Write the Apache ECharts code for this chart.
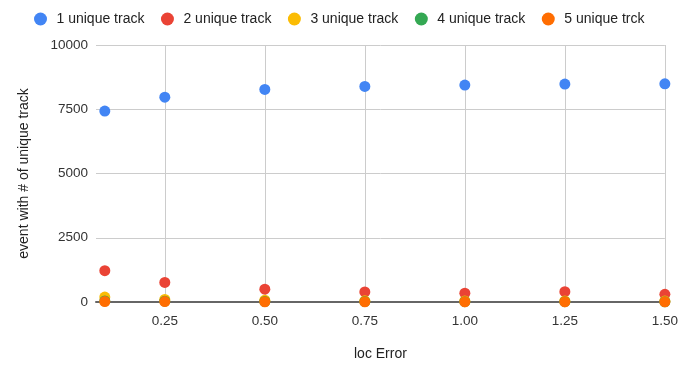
<!DOCTYPE html>
<html>
<head>
<meta charset="utf-8">
<script src="https://cdn.jsdelivr.net/npm/echarts@6/dist/echarts.min.js"></script>
<style>
  html, body { margin: 0; padding: 0; background: #fff; }
  #chart { width: 681px; height: 366px; }
</style>
</head>
<body>
<div id="chart"></div>
<script>
// loc Error values along the x axis
const locError = [0.1, 0.25, 0.5, 0.75, 1.0, 1.25, 1.5];
const xTicks = [0.25, 0.5, 0.75, 1.0, 1.25, 1.5];

// events per number of unique tracks
const track1 = [7430, 7970, 8270, 8390, 8440, 8480, 8490];
const track2 = [1220, 760, 500, 390, 340, 400, 300];
const track3 = [190, 100, 70, 45, 40, 40, 35];
const track4 = [40, 30, 20, 15, 12, 12, 10];
const track5 = [20, 15, 10, 8, 6, 6, 5];

const seriesNames = ['1 unique track', '2 unique track', '3 unique track', '4 unique track', '5 unique trck'];
const seriesColors = ['#4285F4', '#EA4335', '#FBBC04', '#34A853', '#FF6D01'];
const seriesValues = [track1, track2, track3, track4, track5];

const font = 'Arial, "Liberation Sans", sans-serif';

const chart = echarts.init(document.getElementById('chart'), null, { renderer: 'canvas' });
chart.setOption({
  animation: false,
  backgroundColor: '#fff',
  color: seriesColors,
  legend: {
    top: 7,
    left: 29,
    itemWidth: 22,
    itemHeight: 13,
    itemGap: 16.5,
    icon: 'circle',
    textStyle: { fontFamily: font, fontSize: 14, color: '#222' },
    data: seriesNames
  },
  grid: { left: 96, right: 14, top: 45, bottom: 58, containLabel: false },
  xAxis: {
    type: 'value',
    min: 0.078,
    max: 1.5,
    name: 'loc Error',
    nameLocation: 'middle',
    nameGap: 45,
    nameTextStyle: { fontFamily: font, fontSize: 14, color: '#222' },
    axisLine: { show: true, lineStyle: { color: '#666', width: 2 } },
    axisTick: { show: false, customValues: xTicks },
    axisLabel: {
      customValues: xTicks,
      fontFamily: font, fontSize: 13.5, color: '#333', margin: 12,
      formatter: v => v.toFixed(2)
    },
    splitLine: { show: true, lineStyle: { color: '#ccc', width: 1 } }
  },
  yAxis: {
    type: 'value',
    min: 0,
    max: 10000,
    interval: 2500,
    name: 'event with # of unique track',
    nameLocation: 'middle',
    nameGap: 65,
    nameTextStyle: { fontFamily: font, fontSize: 14, color: '#222' },
    axisLine: { show: false },
    axisTick: { show: false },
    axisLabel: {
      fontFamily: font, fontSize: 13.5, color: '#333', margin: 8,
      formatter: v => String(v)
    },
    splitLine: { show: true, lineStyle: { color: '#ccc', width: 1 } }
  },
  series: seriesNames.map((name, i) => ({
    name: name,
    type: 'scatter',
    symbol: 'circle',
    symbolSize: 11,
    itemStyle: { color: seriesColors[i], opacity: 1 },
    data: locError.map((x, j) => [x, seriesValues[i][j]])
  }))
});
</script>
</body>
</html>
